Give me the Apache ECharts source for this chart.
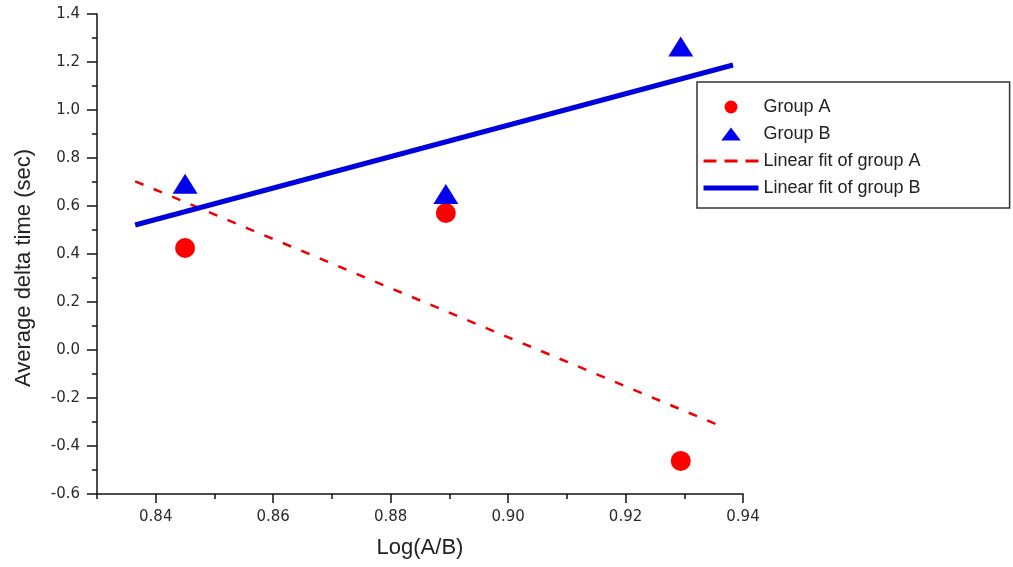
<!DOCTYPE html>
<html>
<head>
<meta charset="utf-8">
<script src="https://cdn.jsdelivr.net/npm/echarts@6/dist/echarts.min.js"></script>
<style>
html,body{margin:0;padding:0;background:#fff;}
#chart{width:1013px;height:567px;}
</style>
</head>
<body>
<div id="chart"></div>
<script>
// ---- data ----
const groupAX = [0.845, 0.8894, 0.9294];
const groupAY = [0.425, 0.571, -0.462];
const groupBX = [0.845, 0.8894, 0.9294];
const groupBY = [0.693, 0.650, 1.265];
const fitAX = [0.8365, 0.936];
const fitAY = [0.703, -0.315];
const fitBX = [0.8365, 0.9383];
const fitBY = [0.521, 1.1875];
const xMajorTicks = [0.84, 0.86, 0.88, 0.90, 0.92, 0.94];
const xMinorTicks = [0.83, 0.85, 0.87, 0.89, 0.91, 0.93];
const seriesNames = ['Group A', 'Group B', 'Linear fit of group A', 'Linear fit of group B'];

const zip = (xs, ys) => xs.map((x, i) => [x, ys[i]]);

const chart = echarts.init(document.getElementById('chart'), null, {renderer: 'canvas'});
const axisColor = '#111';
const tickFont = {fontFamily: 'DejaVu Sans', fontSize: 15, color: '#2a2a2a'};

chart.setOption({
  animation: false,
  backgroundColor: '#fff',
  grid: {left: 97, right: 270, top: 14, bottom: 73, containLabel: false},
  legend: {
    orient: 'vertical',
    left: 697, top: 82,
    padding: [16, 89, 11, 4],
    itemGap: 9,
    itemWidth: 55, itemHeight: 13,
    symbolKeepAspect: true,
    borderColor: '#333', borderWidth: 1.5,
    textStyle: {fontFamily: 'Liberation Sans', fontSize: 18, color: '#222'},
    data: [
      {name: seriesNames[0]},
      {name: seriesNames[1], icon: 'path://M9,0 L18,12 L0,12 Z'},
      {name: seriesNames[2], itemStyle: {opacity: 0}, lineStyle: {width: 3, type: [13, 8]}},
      {name: seriesNames[3], itemStyle: {opacity: 0}, lineStyle: {width: 5}}
    ]
  },
  xAxis: [{
    type: 'value', min: 0.83, max: 0.94,
    axisLine: {show: true, onZero: false, lineStyle: {color: axisColor, width: 1.5}},
    axisTick: {show: true, length: 9, customValues: xMajorTicks, lineStyle: {color: axisColor, width: 1.5}},
    axisLabel: {customValues: xMajorTicks, margin: 16, formatter: v => v.toFixed(2), ...tickFont},
    splitLine: {show: false},
    name: 'Log(A/B)', nameLocation: 'middle', nameGap: 43,
    nameTextStyle: {fontFamily: 'Liberation Sans', fontSize: 22, color: '#222'}
  }, {
    type: 'value', min: 0.83, max: 0.94, position: 'bottom',
    axisLine: {show: false, onZero: false},
    axisTick: {show: true, length: 5, customValues: xMinorTicks, lineStyle: {color: axisColor, width: 1.5}},
    axisLabel: {show: false},
    splitLine: {show: false}
  }],
  yAxis: {
    type: 'value', min: -0.6, max: 1.4, interval: 0.2,
    axisLine: {show: true, onZero: false, lineStyle: {color: axisColor, width: 1.5}},
    axisTick: {show: true, length: 10, lineStyle: {color: axisColor, width: 1.5}},
    minorTick: {show: true, splitNumber: 2, length: 5, lineStyle: {color: axisColor, width: 1.5}},
    axisLabel: {margin: 17, formatter: v => v.toFixed(1), ...tickFont},
    splitLine: {show: false},
    name: 'Average delta time (sec)', nameLocation: 'middle', nameGap: 62, nameRotate: 90,
    nameTextStyle: {fontFamily: 'Liberation Sans', fontSize: 22, color: '#222', padding: [0, 28, 0, 0]}
  },
  series: [
    {
      name: seriesNames[0], type: 'scatter', data: zip(groupAX, groupAY),
      symbol: 'circle', symbolSize: 20, itemStyle: {color: '#ff0000', opacity: 1}, z: 5
    },
    {
      name: seriesNames[1], type: 'scatter', data: zip(groupBX, groupBY),
      symbol: 'triangle', symbolSize: [25, 20], itemStyle: {color: '#0000ee', opacity: 1}, z: 5
    },
    {
      name: seriesNames[2], type: 'line', data: zip(fitAX, fitAY), symbol: 'none',
      itemStyle: {color: '#ee0000'},
      lineStyle: {color: '#ee0000', width: 2.5, type: [9, 11]}, z: 3
    },
    {
      name: seriesNames[3], type: 'line', data: zip(fitBX, fitBY), symbol: 'none',
      itemStyle: {color: '#0000dd'},
      lineStyle: {color: '#0000dd', width: 5}, z: 4
    }
  ]
});
</script>
</body>
</html>
